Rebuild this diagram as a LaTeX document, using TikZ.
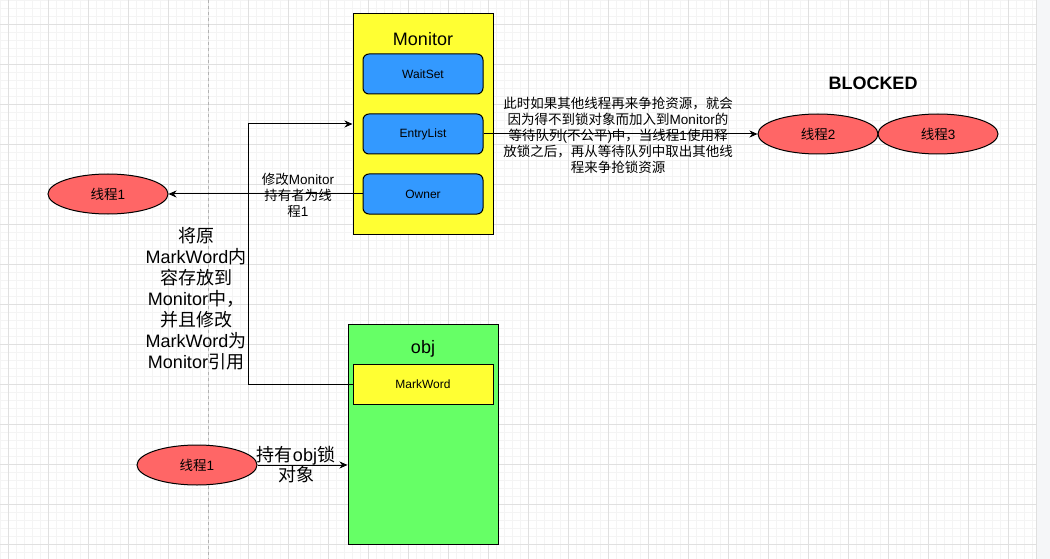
\documentclass[tikz,border=0pt]{standalone}
\usepackage{fontspec}
\setmainfont{Liberation Sans}
\newfontfamily\cjk{Noto Sans CJK SC}
\newcommand\zh[1]{{\cjk #1}}
\usetikzlibrary{arrows.meta,shapes.geometric}
\definecolor{cyellow}{HTML}{FFFF33}
\definecolor{cblue}{HTML}{3399FF}
\definecolor{cred}{HTML}{FF6666}
\definecolor{cgreen}{HTML}{66FF66}
\definecolor{gmajor}{HTML}{E0E0E0}
\definecolor{gminor}{HTML}{F4F4F4}
\definecolor{panel}{HTML}{F5F6F8}
\tikzset{
  conn/.style={line width=1pt, draw=black},
  arr/.style={conn, -{Stealth[length=8pt,width=7pt,inset=2.5pt]}},
  bigbox/.style={draw=black, line width=1pt, rectangle, inner sep=0pt},
  innerbox/.style={draw=black, line width=1pt, rectangle, inner sep=0pt, minimum width=120pt, minimum height=40pt, font=\fontsize{12}{14}\selectfont},
  thread/.style={ellipse, draw=black, line width=1pt, fill=cred, minimum width=120pt, minimum height=40pt, inner sep=0pt, font=\fontsize{13.5}{15}\selectfont},
  lbl/.style={align=center, inner sep=0pt}
}
\begin{document}
\begin{tikzpicture}[x=1pt,y=-1pt]
\useasboundingbox (0,0) rectangle (1050,559);
\fill[white] (0,0) rectangle (1050,559);
% grid
\foreach \i in {0,8,...,1032} \draw[gminor, line width=0.6pt] (\i,0) -- (\i,559);
\foreach \j in {0,8,...,552} \draw[gminor, line width=0.6pt] (0,\j) -- (1036,\j);
\foreach \i in {8,48,...,1008} \draw[gmajor, line width=0.8pt] (\i,0) -- (\i,559);
\foreach \j in {24,64,...,544} \draw[gmajor, line width=0.8pt] (0,\j) -- (1036,\j);
\draw[gray!60, line width=0.8pt, dash pattern=on 3pt off 3pt] (208,0) -- (208,559);
\fill[panel] (1036,0) rectangle (1050,559);
\draw[gmajor, line width=0.8pt] (1036,0) -- (1036,559);

% Monitor
\node[bigbox, fill=cyellow, minimum width=140pt, minimum height=220pt] (mon) at (423,124) {};
\node[lbl, font=\fontsize{18}{20}\selectfont] (monl) at (423,39) {Monitor};
\node[innerbox, fill=cblue, rounded corners=6pt] (wait) at (423,74) {WaitSet};
\node[innerbox, fill=cblue, rounded corners=6pt] (entry) at (423,134) {EntryList};
\node[innerbox, fill=cblue, rounded corners=6pt] (owner) at (423,194) {Owner};

% obj
\node[bigbox, fill=cgreen, minimum width=150pt, minimum height=220pt] (obj) at (423,434) {};
\node[lbl, font=\fontsize{18}{20}\selectfont] (objl) at (423,349) {obj};
\node[innerbox, fill=cyellow, minimum width=140pt] (mw) at (423,384) {MarkWord};

% threads
\node[thread] (t1) at (108,194) {\zh{线程}1};
\node[thread] (t1b) at (197,465) {\zh{线程}1};
\node[thread] (t2) at (818,134) {\zh{线程}2};
\node[thread] (t3) at (938,134) {\zh{线程}3};
\node[lbl, font=\fontsize{18}{20}\bfseries] (blk) at (873,83) {BLOCKED};

% connectors
\coordinate (c1) at (248,384);
\draw[arr] (mw.west) -- (c1) |- (mon.west);
\draw[arr] (owner.west) -- (t1.east);
\draw[arr] (entry.east) -- (t2.west);
\draw[arr] (t1b.east) -- (t1b.east -| obj.west);

% labels
\node[lbl, font=\fontsize{13.5}{16}\selectfont] (lowner) at (298,195)
  {\zh{修改}Monitor\\\zh{持有者为线}\\\zh{程}1};
\node[lbl, font=\fontsize{18}{21}\selectfont] (lmw) at (196,299)
  {\zh{将原}\\MarkWord\zh{内}\\\zh{容存放到}\\Monitor\zh{中，}\\\zh{并且修改}\\MarkWord\zh{为}\\Monitor\zh{引用}};
\node[lbl, font=\fontsize{13.5}{16}\selectfont] (lentry) at (618,135)
  {\zh{此时如果其他线程再来争抢资源，就会}\\\zh{因为得不到锁对象而加入到}Monitor\zh{的}\\\zh{等待队列}(\zh{不公平})\zh{中，当线程}1\zh{使用释}\\\zh{放锁之后，再从等待队列中取出其他线}\\\zh{程来争抢锁资源}};
\node[lbl, font=\fontsize{18}{20}\selectfont] (lhold) at (296,465)
  {\zh{持有}obj\zh{锁}\\\zh{对象}};
\end{tikzpicture}
\end{document}
